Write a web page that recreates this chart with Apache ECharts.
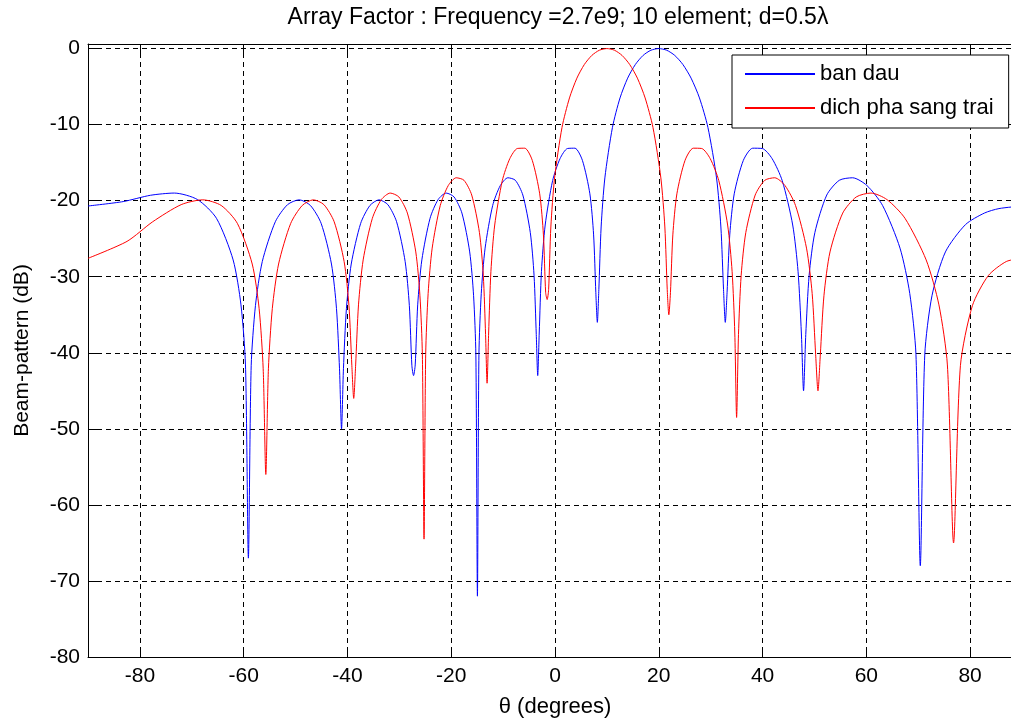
<!DOCTYPE html>
<html>
<head>
<meta charset="utf-8">
<script src="https://cdn.jsdelivr.net/npm/echarts@6/dist/echarts.min.js"></script>
<style>
  html, body { margin: 0; padding: 0; background: #fff; }
  #chart { width: 1011px; height: 721px; }
</style>
</head>
<body>
<div id="chart"></div>
<script>
// angle (deg) and level (dB)
const blueTheta = [
  -90, -83.22, -77.96, -73.35, -68.91, -65.24, -62.03, -60.52, -59.65, -59.09,
  -58.55, -57.73, -56.41, -53.9, -51.54, -49.29, -47.14, -45.07, -43.08, -42.11, -41.53, -41.14,
  -40.77, -40.2, -39.27, -37.45, -35.66, -33.92, -32.21, -30.53, -28.88, -28.07, -27.58, -27.26,
  -26.94, -26.46, -25.66, -24.08, -22.52, -20.98, -19.45, -17.94, -16.44, -15.69, -15.25, -14.95,
  -14.66, -14.21, -13.47, -12.01, -10.54, -9.09, -7.64, -6.2, -4.76, -4.04, -3.61, -3.33,
  -3.04, -2.61, -1.89, -0.46, 0.97, 2.41, 3.84, 5.28, 6.72, 7.44, 7.87, 8.16,
  8.45, 8.89, 9.61, 11.07, 12.53, 14, 15.49, 16.98, 18.48, 20, 21.53, 23.08, 24.64, 26.23,
  27.84, 29.47, 31.13, 31.97, 32.48, 32.82,
  33.16, 33.68, 34.54, 36.3, 38.1, 39.94, 41.84, 43.79, 45.81, 46.84, 47.48, 47.9,
  48.33, 48.98, 50.08, 52.37, 54.79, 57.36, 60.12, 63.13, 66.49, 68.37, 69.56, 70.4,
  71.26, 72.65, 75.24, 79.1, 82.75, 85.56, 90
];
const blueDb = [
  -20.7, -20.12, -19.29, -19.0, -19.85, -22.32, -27.79, -33.7, -41.6, -67,
  -41.7, -33.8, -28.0, -22.77, -20.52, -19.89, -20.63, -22.98, -28.33, -34.2, -42.1, -50,
  -42.1, -34.2, -28.33, -22.98, -20.63, -19.89, -20.52, -22.77, -28.0, -33.8, -41.7, -43,
  -41.6, -33.7, -27.79, -22.32, -19.85, -19.0, -19.51, -21.63, -26.74, -32.5, -40.3, -72,
  -40.2, -32.2, -26.24, -20.63, -18.01, -16.99, -17.32, -19.26, -24.2, -29.8, -37.6, -43,
  -37.4, -29.3, -23.2, -17.37, -14.47, -13.14, -13.1, -14.7, -19.1, -24.5, -32.1, -36,
  -31.7, -23.46, -17.01, -10.37, -6.49, -3.89, -2.09, -0.9, -0.22, 0, -0.22, -0.9, -2.09, -3.89,
  -6.49, -10.37, -17.01, -23.46, -31.7, -36,
  -32.1, -24.5, -19.1, -14.7, -13.1, -13.14, -14.47, -17.37, -23.2, -29.3, -37.4, -45,
  -37.6, -29.8, -24.2, -19.26, -17.32, -16.99, -18.01, -20.63, -26.24, -32.2, -40.2, -68,
  -40.3, -32.5, -26.74, -23.15, -21.63, -21.04, -20.7
];
const redTheta = [
  -90, -82.48, -77.53, -72.04, -67.87, -64.33, -61.22, -58.35, -57.02, -56.24, -55.73,
  -55.23, -54.48, -53.27, -50.93, -48.71, -46.59, -44.54, -42.56, -40.64, -39.71, -39.15, -38.79,
  -38.42, -37.87, -36.97, -35.2, -33.46, -31.76, -30.09, -28.45, -26.83, -26.03, -25.56, -25.24,
  -24.92, -24.45, -23.67, -22.11, -20.57, -19.05, -17.54, -16.05, -14.56, -13.82, -13.38, -13.09,
  -12.79, -12.35, -11.62, -10.16, -8.71, -7.26, -5.82, -4.38, -2.95, -2.23, -1.8, -1.51,
  -1.23, -0.8, -0.08, 1.35, 2.79, 4.22, 5.66, 7.1, 8.55, 10, 11.46, 12.92, 14.39, 15.88,
  17.37, 18.88, 20.4, 21.17, 21.63, 21.94,
  22.25, 22.71, 23.49, 25.06, 26.65, 28.27, 29.91, 31.57, 33.27, 34.13, 34.65, 35,
  35.36, 35.88, 36.77, 38.58, 40.43, 42.35, 44.32, 46.35, 48.47, 49.56, 50.23, 50.68,
  51.13, 51.83, 53, 55.45, 58.06, 60.89, 63.96, 67.45, 71.53, 73.99, 75.62, 76.81,
  78.13, 80.44, 83.51, 86.97, 90
];
const redDb = [
  -27.58, -25.35, -22.77, -20.52, -19.89, -20.63, -22.98, -28.33, -34.2, -42.1, -56,
  -42.1, -34.2, -28.33, -22.98, -20.63, -19.89, -20.52, -22.77, -28.0, -33.8, -41.7, -46,
  -41.6, -33.7, -27.79, -22.32, -19.85, -19.0, -19.51, -21.63, -26.74, -32.5, -40.3, -64.5,
  -40.2, -32.2, -26.24, -20.63, -18.01, -16.99, -17.32, -19.26, -24.2, -29.8, -37.6, -44,
  -37.4, -29.3, -23.2, -17.37, -14.47, -13.14, -13.1, -14.7, -19.1, -24.5, -32.1, -33,
  -31.7, -23.46, -17.01, -10.37, -6.49, -3.89, -2.09, -0.9, -0.22, 0, -0.22, -0.9, -2.09, -3.89,
  -6.49, -10.37, -17.01, -23.46, -31.7, -35,
  -32.1, -24.5, -19.1, -14.7, -13.1, -13.14, -14.47, -17.37, -23.2, -29.3, -37.4, -48.5,
  -37.6, -29.8, -24.2, -19.26, -17.32, -16.99, -18.01, -20.63, -26.24, -32.2, -40.2, -45,
  -40.3, -32.5, -26.74, -21.63, -19.51, -19.0, -19.85, -22.32, -27.79, -33.7, -41.6, -65,
  -41.7, -33.8, -29.85, -28.0, -27.58
];
const seriesNames = ['ban dau', 'dich pha sang trai'];

const font = "'Liberation Sans', Arial, Helvetica, sans-serif";

function pairs(xs, ys) {
  return xs.map((x, i) => [x, ys[i]]);
}

let chart = echarts.init(document.getElementById('chart'));
let gridDash = { show: true, lineStyle: { color: '#000', type: [5, 4], width: 1 } };
let xCommon = {
  type: 'value',
  min: -90,
  max: 90,
  splitNumber: 9,
  minInterval: 20,
  maxInterval: 20,
};
let option = {
  animation: false,
  backgroundColor: '#fff',
  title: {
    text: 'Array Factor : Frequency =2.7e9; 10 element; d=0.5\u03bb',
    left: 553,
    top: 1,
    textAlign: 'center',
    textStyle: { fontFamily: font, fontSize: 23, fontWeight: 'normal', color: '#000' },
  },
  legend: {
    data: seriesNames,
    orient: 'vertical',
    left: 732,
    top: 55,
    icon: 'rect',
    itemWidth: 70,
    itemHeight: 2,
    itemGap: 12,
    padding: [8, 15, 9, 13],
    backgroundColor: '#fff',
    borderColor: '#000',
    borderWidth: 1,
    borderRadius: 0,
    textStyle: { fontFamily: font, fontSize: 22, color: '#000' },
  },
  grid: { left: 88, width: 934, top: 44, height: 613, outerBoundsMode: 'none', containLabel: false },
  xAxis: [
    Object.assign({}, xCommon, {
      name: '\u03b8 (degrees)',
      nameLocation: 'middle',
      nameGap: 39,
      nameTextStyle: { fontFamily: font, fontSize: 22, color: '#000' },
      axisLine: { onZero: false, lineStyle: { color: '#000', width: 1 } },
      axisTick: { inside: true, length: 9, lineStyle: { color: '#000' } },
      axisLabel: {
        margin: 9,
        fontFamily: font,
        fontSize: 21,
        color: '#000',
        formatter: (v) => (v % 20 === 0 ? String(v) : ''),
      },
      splitLine: gridDash,
    }),
    Object.assign({}, xCommon, {
      position: 'top',
      axisLine: { onZero: false, lineStyle: { color: '#000', width: 1 } },
      axisTick: { inside: true, length: 9, lineStyle: { color: '#000' } },
      axisLabel: { show: false },
      splitLine: { show: false },
    }),
  ],
  yAxis: {
    type: 'value',
    min: -80,
    max: 0.6,
    interval: 10,
    name: 'Beam-pattern (dB)',
    nameLocation: 'middle',
    nameGap: 55,
    nameTextStyle: { fontFamily: font, fontSize: 21, color: '#000' },
    axisLine: { show: true, onZero: false, lineStyle: { color: '#000', width: 1 } },
    axisTick: { show: true, inside: true, length: 9, lineStyle: { color: '#000' } },
    axisLabel: {
      margin: 8,
      fontFamily: font,
      fontSize: 21,
      color: '#000',
      formatter: (v) => (v % 10 === 0 ? String(v) : ''),
    },
    splitLine: gridDash,
  },
  series: [
    {
      name: seriesNames[0],
      type: 'line',
      symbol: 'none',
      smooth: 0.25,
      color: '#0000ff',
      lineStyle: { color: '#0000ff', width: 1 },
      data: pairs(blueTheta, blueDb),
    },
    {
      name: seriesNames[1],
      type: 'line',
      symbol: 'none',
      smooth: 0.25,
      color: '#ff0000',
      lineStyle: { color: '#ff0000', width: 1 },
      data: pairs(redTheta, redDb),
    },
  ],
};
chart.setOption(option);
</script>
</body>
</html>
